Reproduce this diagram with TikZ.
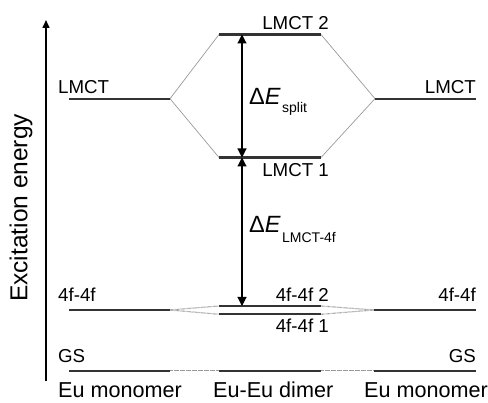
\documentclass[tikz,border=0pt]{standalone}
\usepackage{fontspec}
\setmainfont{Liberation Sans}
\usetikzlibrary{arrows.meta}
\definecolor{levelgray}{HTML}{333333}
\definecolor{linkgray}{HTML}{9A9A9A}
\tikzset{
  x=1pt, y=1pt,
  level/.style={draw=levelgray, line width=2.2pt},
  link/.style={draw=linkgray, line width=0.7pt},
  dotlink/.style={draw=linkgray, line width=1.2pt, dash pattern=on 0.6pt off 0.6pt},
  gap/.style={draw=black, line width=1.1pt,
    {Triangle[width=9pt,length=9pt]}-{Triangle[width=9pt,length=9pt]}},
  lbl/.style={inner sep=0pt, font=\fontsize{18.7}{20}\selectfont},
  col/.style={inner sep=0pt, font=\fontsize{21.6}{24}\selectfont},
  dlt/.style={inner sep=0pt, font=\fontsize{23.5}{25}\selectfont},
  sub/.style={inner sep=0pt, font=\fontsize{14}{16}\selectfont},
}
\begin{document}
\begin{tikzpicture}
\useasboundingbox (0,0) rectangle (488,403);

% energy axis
\coordinate (ax0) at (46,22);
\coordinate (ax1) at (46,383);
\draw[line width=1.5pt, -{Triangle[width=7pt,length=8pt]}] (ax0) -- (ax1);
\node[inner sep=0pt, rotate=90, font=\fontsize{24.5}{26}\selectfont] (axl) at (21,195) {Excitation energy};

% monomer (left) levels
\coordinate (lmA) at (69,304.3);  \coordinate (lmB) at (170,304.3);
\coordinate (lfA) at (69,93);     \coordinate (lfB) at (170,93);
\coordinate (lgA) at (69,32.3);   \coordinate (lgB) at (170,32.3);
% dimer (centre) levels
\coordinate (c2A) at (219,368.5); \coordinate (c2B) at (321,368.5);
\coordinate (c1A) at (219,245.5); \coordinate (c1B) at (321,245.5);
\coordinate (f2A) at (219,97);    \coordinate (f2B) at (321,97);
\coordinate (f1A) at (219,88.7);  \coordinate (f1B) at (321,88.7);
\coordinate (cgA) at (219,32.3);  \coordinate (cgB) at (321,32.3);
% monomer (right) levels
\coordinate (rmA) at (375,304.3); \coordinate (rmB) at (476,304.3);
\coordinate (rfA) at (374,93);    \coordinate (rfB) at (476,93);
\coordinate (rgA) at (374,32.3);  \coordinate (rgB) at (476,32.3);

% correlation lines
\draw[link] (lmB) -- (c2A);
\draw[link] (lmB) -- (c1A);
\draw[link] (c2B) -- (rmA);
\draw[link] (c1B) -- (rmA);
\draw[dotlink] (lfB) -- (f2A);
\draw[dotlink] (lfB) -- (f1A);
\draw[dotlink] (f2B) -- (rfA);
\draw[dotlink] (f1B) -- (rfA);
\draw[dotlink] (lgB) -- (cgA);
\draw[dotlink] (cgB) -- (rgA);

% energy levels
\foreach \a/\b in {lmA/lmB, lfA/lfB, lgA/lgB, c2A/c2B, c1A/c1B,
                   f2A/f2B, f1A/f1B, cgA/cgB, rmA/rmB, rfA/rfB, rgA/rgB}
  \draw[level] (\a) -- (\b);

% energy gaps
\coordinate (g2) at (242,368.5);
\coordinate (g1) at (242,245.5);
\coordinate (g0) at (242,97);
\draw[gap] (g2) -- (g1);
\draw[gap] (g1) -- (g0);

% level labels
\node[lbl, anchor=base west] (tlm) at (58,309) {LMCT};
\node[lbl, anchor=base west] (tlf) at (58,101) {4f-4f};
\node[lbl, anchor=base west] (tlg) at (58,40) {GS};
\node[lbl, anchor=base east] (tc2) at (329,373) {LMCT 2};
\node[lbl, anchor=base east] (tc1) at (329,226) {LMCT 1};
\node[lbl, anchor=base east] (tf2) at (329,101) {4f-4f 2};
\node[lbl, anchor=base east] (tf1) at (329,70) {4f-4f 1};
\node[lbl, anchor=base east] (trm) at (476,309) {LMCT};
\node[lbl, anchor=base east] (trf) at (476,101) {4f-4f};
\node[lbl, anchor=base east] (trg) at (476,40) {GS};

% gap labels
\node[dlt, anchor=base west] (dsp) at (249,298) {Δ\textit{E}};
\node[sub, anchor=base west] (dsps) at (dsp.base east) [yshift=-8pt, xshift=1pt] {split};
\node[dlt, anchor=base west] (dlm) at (249,170) {Δ\textit{E}};
\node[sub, anchor=base west] (dlms) at (dlm.base east) [yshift=-10pt, xshift=1pt] {LMCT-4f};

% column labels
\node[col, anchor=base west] (cl) at (58,5) {Eu monomer};
\node[col, anchor=base west] (cm) at (213,5) {Eu-Eu dimer};
\node[col, anchor=base west] (cr) at (364,5) {Eu monomer};
\end{tikzpicture}
\end{document}
